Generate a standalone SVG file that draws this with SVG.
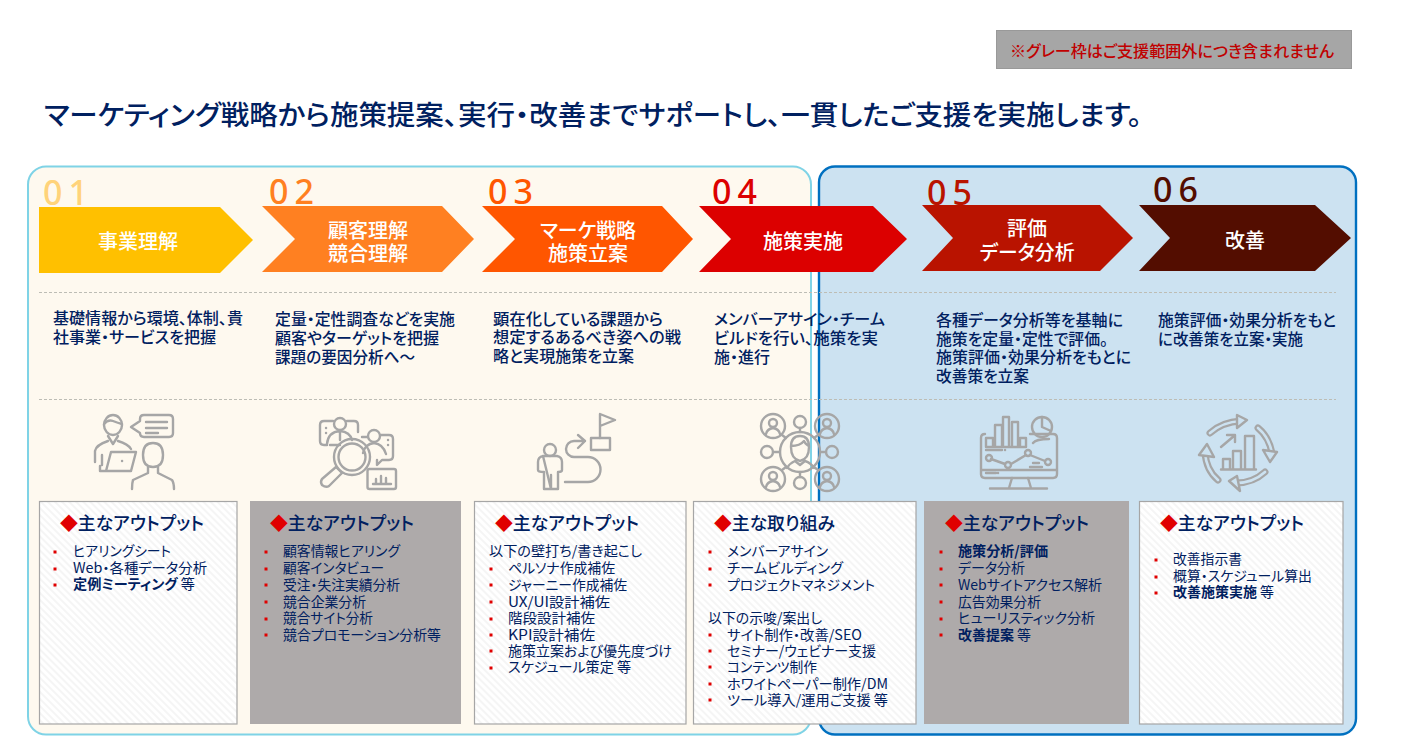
<svg xmlns="http://www.w3.org/2000/svg" width="1408" height="755" viewBox="0 0 1408 755">
<style>
text{font-family:"Noto Sans CJK JP","Noto Sans",sans-serif;fill:#002060;font-feature-settings:"palt"}
.num{font-family:"Noto Sans",sans-serif;font-size:34px;font-weight:500;letter-spacing:6px}
.lab{fill:#fff;font-size:20px;font-weight:500;text-anchor:middle}
.desc{font-size:15.5px;font-weight:500}
.li{font-size:14px;font-weight:400}
.b{font-weight:700}
.hd{font-size:18px;font-weight:500}
.dia{fill:#e00000}
.bul{fill:#e00000}
.box{stroke:#a6a6a6;stroke-width:1.2}
.w{fill:url(#hatch)}
.g{fill:#aeaaaa}
.dash{stroke:#bdbdb5;stroke-width:1;stroke-dasharray:3 2;fill:none}
.ic{fill:none;stroke:#a6a6a6;stroke-width:2.4;stroke-linecap:round;stroke-linejoin:round}
</style>
<defs>
<pattern id="hatch" width="5" height="5" patternUnits="userSpaceOnUse" patternTransform="rotate(45)">
<rect width="5" height="5" fill="#fff"/><rect width="5" height="2" fill="#f5f5f5"/>
</pattern>
<rect id="bl" x="-1.500" y="-1.500" width="3" height="3" class="bul"/>
</defs>
<rect width="1408" height="755" fill="#fff"/>
<g id="note">
<rect x="996.500" y="30.500" width="355" height="38" fill="#a6a6a6" stroke="#999"/>
<text x="1010" y="57" font-size="15.500" font-weight="500" style="fill:#c00000" textLength="324" lengthAdjust="spacingAndGlyphs">※グレー枠はご支援範囲外につき含まれません</text>
</g>
<text id="title" x="44" y="125" font-size="27.500" font-weight="500" textLength="1098" lengthAdjust="spacingAndGlyphs">マーケティング戦略から施策提案、実行・改善までサポートし、一貫したご支援を実施します。</text>
<g id="panels">
<rect x="28" y="166.500" width="783" height="568" rx="18" fill="#fef9ef" stroke="#7fd3e6" stroke-width="2"/>
<rect x="819" y="166.500" width="537" height="568" rx="16" fill="#cce2f1" stroke="#0070c0" stroke-width="2.400"/>
</g>
<path class="dash" d="M39 292.500H1336M39 399.500H1336"/>

<g id="step1">
<text class="num" x="43" y="205" style="fill:#ffd37a">01</text>
<path d="M39 207H220L253 240L220 273H39Z" fill="#ffc000"/>
<text class="lab" x="138" y="249">事業理解</text>
<text class="desc" x="53" y="324" textLength="190" lengthAdjust="spacingAndGlyphs">基礎情報から環境、体制、貴</text>
<text class="desc" x="53" y="343" textLength="163" lengthAdjust="spacingAndGlyphs">社事業・サービスを把握</text>
<g class="ic">
<ellipse cx="113" cy="425" rx="9" ry="10"/><path d="M104 424Q108 419 113 421Q118 423 122 424M108 436L113 444L118 436M95 462V451Q96 445 108 441M118 441Q128 444 131 449M102 455V465M111 452H136L131 471H106ZM100 466V471H131"/>
<path d="M122 461h.1"/>
<path d="M144 415H169Q173 415 173 419V433Q173 437 169 437H144Q140 437 140 433L131 427L140 421V419Q140 415 144 415ZM146 422H167M146 428H167M146 433H158"/>
<path d="M143 455Q143 443 153 443Q163 443 163 455Q163 467 153 467Q143 467 143 455ZM148 467V473L133 480Q132 483 132 489M158 467V473L172 480Q174 483 174 489"/>
</g>
</g>

<g id="step2">
<text class="num" x="269" y="204" style="fill:#ff8021">02</text>
<path d="M262 206H442L474 239L442 272H262L295 239Z" fill="#ff8021"/>
<text class="lab" x="368" y="238">顧客理解</text><text class="lab" x="368" y="261">競合理解</text>
<text class="desc" x="275" y="325" textLength="180" lengthAdjust="spacingAndGlyphs">定量・定性調査などを実施</text>
<text class="desc" x="275" y="344" textLength="164" lengthAdjust="spacingAndGlyphs">顧客やターゲットを把握</text>
<text class="desc" x="275" y="363" textLength="140" lengthAdjust="spacingAndGlyphs">課題の要因分析へ～</text>
<g class="ic">
<path d="M333 421H324Q320 421 320 425V441Q320 445 324 445H327M347 421H354Q358 421 358 425V432M330 445H340"/>
<circle cx="340" cy="424" r="6"/><path d="M327 444Q328 432 340 431Q350 432 352 440M340 431V440"/>
<circle cx="374" cy="436" r="6"/><path d="M363 453Q365 444 374 443Q383 444 386 454M367 437H362M381 435H389Q393 435 393 439V456Q393 460 389 460H382L377 465V460"/>
<circle cx="352" cy="457" r="18"/><circle cx="352" cy="457" r="13.500"/>
<path d="M339 470L342 473L329 486Q326 488 322 485Q320 482 322 479L336 467Z"/>
<rect x="367.500" y="469" width="28.500" height="20" rx="2"/><path d="M373 484H391M376 484V479M381 484V476M386 484V478"/>
<path d="M326 428h.1M326 433h.1M388 440h.1M388 445h.1"/>
</g>
</g>

<g id="step3">
<text class="num" x="488" y="204" style="fill:#ff5600">03</text>
<path d="M482 206H662L693 239L662 272H482L515 239Z" fill="#ff5600"/>
<text class="lab" x="588" y="238" textLength="96" lengthAdjust="spacingAndGlyphs">マーケ戦略</text><text class="lab" x="588" y="261">施策立案</text>
<text class="desc" x="493" y="325" textLength="170" lengthAdjust="spacingAndGlyphs">顕在化している課題から</text>
<text class="desc" x="493" y="343" textLength="188" lengthAdjust="spacingAndGlyphs">想定するあるべき姿への戦</text>
<text class="desc" x="493" y="362" textLength="141" lengthAdjust="spacingAndGlyphs">略と実現施策を立案</text>
<g class="ic">
<circle cx="550" cy="450" r="6"/>
<path d="M543 456H557Q562 457 562 462V470Q562 472 558 472V489H551V475M551 489H544V472Q538 472 538 470V462Q538 457 543 456Z"/>
<path d="M565 482H588A12.500 12.500 0 0 0 588 457H574A8 8 0 0 1 574 441H585M578 435L585 441L578 448"/>
<rect x="591" y="438" width="19" height="12"/><path d="M600 438V414L615 420L600 426"/>
</g>
</g>

<g id="step4">
<text class="num" x="712" y="204" style="fill:#dc0000">04</text>
<path d="M699 206H873L907 239L873 272H699L731 239Z" fill="#dc0000"/>
<text class="lab" x="803" y="249">施策実施</text>
<text class="desc" x="714" y="325" textLength="171" lengthAdjust="spacingAndGlyphs">メンバーアサイン・チーム</text>
<text class="desc" x="714" y="344" textLength="164" lengthAdjust="spacingAndGlyphs">ビルドを行い、施策を実</text>
<text class="desc" x="714" y="363" textLength="56" lengthAdjust="spacingAndGlyphs">施・進行</text>
<g class="ic">
<circle cx="800" cy="452" r="20"/><path d="M791 447Q791 436 800 436Q809 436 809 447Q809 459 800 461Q791 459 791 447ZM791 446Q800 446 804 441Q806 445 809 446M787 468Q790 463 795 461L800 465L805 461Q811 463 814 468"/>
<circle cx="773" cy="426" r="12"/><circle cx="827" cy="426" r="12"/><circle cx="773" cy="479" r="12"/><circle cx="827" cy="479" r="12"/>
<circle cx="800" cy="422" r="6"/><circle cx="800" cy="483" r="6"/><circle cx="767" cy="452" r="6"/><circle cx="832" cy="452" r="6"/>
<path d="M800 428V432M800 472V477M773 452H780M820 452H826M782 435L786 438M818 435L814 438M782 470L786 467M818 470L814 467"/>
<circle cx="773" cy="423" r="4"/><path d="M766 434Q767 429 773 428Q779 429 780 434"/>
<circle cx="827" cy="423" r="4"/><path d="M820 434Q821 429 827 428Q833 429 834 434"/>
<circle cx="773" cy="476" r="4"/><path d="M766 487Q767 482 773 481Q779 482 780 487"/>
<circle cx="827" cy="476" r="4"/><path d="M820 487Q821 482 827 481Q833 482 834 487"/>
</g>
</g>

<g id="step5">
<text class="num" x="927" y="205" style="fill:#b91300">05</text>
<path d="M922 205H1100L1133 238L1100 271H922L953 238Z" fill="#b91300"/>
<text class="lab" x="1027" y="236">評価</text><text class="lab" x="1027" y="260" textLength="95" lengthAdjust="spacingAndGlyphs">データ分析</text>
<text class="desc" x="936" y="326" textLength="187" lengthAdjust="spacingAndGlyphs">各種データ分析等を基軸に</text>
<text class="desc" x="936" y="345" textLength="172" lengthAdjust="spacingAndGlyphs">施策を定量・定性で評価。</text>
<text class="desc" x="936" y="363" textLength="195" lengthAdjust="spacingAndGlyphs">施策評価・効果分析をもとに</text>
<text class="desc" x="936" y="382" textLength="93" lengthAdjust="spacingAndGlyphs">改善策を立案</text>
<g class="ic">
<path d="M1030 434H1053Q1057 434 1057 438V474Q1057 478 1053 478H985Q981 478 981 474V438Q981 434 985 434"/>
<path d="M986 447V438H993V447ZM995 447V425H1002V447M1003 447V417H1009V447M1012 447V422H1018V447M1020 447V438H1026V447M986 447H1026"/>
<circle cx="1042" cy="427" r="10"/><path d="M1042 417V427L1051 431"/>
<path d="M1033 443Q1036 439 1049 439M986 450H1002M1005 450h.1"/>
<path d="M991 459L1005 464M1011 464L1026 455M1030 455L1045 461"/>
<circle cx="989" cy="458" r="3"/><circle cx="1008" cy="465" r="3"/><circle cx="1028" cy="453" r="3"/><circle cx="1048" cy="462" r="3"/>
<path d="M1033 463H1039M1030 467H1042M986 473H996M998 473h.1M982 470H1056M1012 478L1009 488M1028 478L1031 488M990 488.500H1047"/>
</g>
</g>

<g id="step6">
<text class="num" x="1153" y="202" style="fill:#530d00">06</text>
<path d="M1139 205H1315L1351 238L1315 271H1139L1170 238Z" fill="#530d00"/>
<text class="lab" x="1245" y="248">改善</text>
<text class="desc" x="1158" y="326" textLength="178" lengthAdjust="spacingAndGlyphs">施策評価・効果分析をもと</text>
<text class="desc" x="1158" y="345" textLength="145" lengthAdjust="spacingAndGlyphs">に改善策を立案・実施</text>
<g fill="none" stroke-linecap="round">
<path d="M1210 433Q1222 422 1241 421M1258 428Q1269 437 1272 453M1265 472Q1253 483 1236 483M1218 480Q1206 470 1205 452" stroke="#a6a6a6" stroke-width="7"/>
<path d="M1210 433Q1222 422 1241 421M1258 428Q1269 437 1272 453M1265 472Q1253 483 1236 483M1218 480Q1206 470 1205 452" stroke="#cce2f1" stroke-width="2.600"/>
</g>
<g class="ic" style="fill:#cce2f1">
<path d="M1247 420L1237 415V428ZM1270 462L1263 450L1277 452ZM1229 481L1240 491L1237 476ZM1207 444L1199 455L1214 457Z"/>
<path d="M1223 469V459H1230V469M1233 469V451H1241V469M1245 469V436H1254V469M1221 469.500H1256M1221 447L1234 436M1227 435H1235V442"/>
</g>
</g>

<g id="box1">
<rect class="box w" x="39.500" y="501.500" width="197.500" height="222.500"/>
<text class="hd" x="60" y="530" textLength="144" lengthAdjust="spacingAndGlyphs"><tspan class="dia">◆</tspan>主なアウトプット</text>
<text x="73" y="556" class="li" textLength="98" lengthAdjust="spacingAndGlyphs">ヒアリングシート</text>
<text x="73" y="573" class="li" textLength="134" lengthAdjust="spacingAndGlyphs">Web・各種データ分析</text>
<text x="73" y="589" class="li" textLength="122" lengthAdjust="spacingAndGlyphs"><tspan class="b">定例ミーティング</tspan> 等</text>
<use href="#bl" x="55" y="552"/><use href="#bl" x="55" y="569"/><use href="#bl" x="55" y="585"/>
</g>

<g id="box2">
<rect class="g" x="250" y="501" width="211" height="223"/>
<text class="hd" x="270" y="530" textLength="144" lengthAdjust="spacingAndGlyphs"><tspan class="dia">◆</tspan>主なアウトプット</text>
<text x="283" y="556" class="li" textLength="117" lengthAdjust="spacingAndGlyphs">顧客情報ヒアリング</text>
<text x="283" y="573" class="li" textLength="101" lengthAdjust="spacingAndGlyphs">顧客インタビュー</text>
<text x="283" y="590" class="li" textLength="117" lengthAdjust="spacingAndGlyphs">受注・失注実績分析</text>
<text x="283" y="607" class="li" textLength="83" lengthAdjust="spacingAndGlyphs">競合企業分析</text>
<text x="283" y="623" class="li" textLength="90" lengthAdjust="spacingAndGlyphs">競合サイト分析</text>
<text x="283" y="640" class="li" textLength="158" lengthAdjust="spacingAndGlyphs">競合プロモーション分析等</text>
<use href="#bl" x="266" y="552"/><use href="#bl" x="266" y="569"/><use href="#bl" x="266" y="585"/><use href="#bl" x="266" y="602"/><use href="#bl" x="266" y="619"/><use href="#bl" x="266" y="635"/>
</g>

<g id="box3">
<rect class="box w" x="474.500" y="501.500" width="211.500" height="222.500"/>
<text class="hd" x="495" y="530" textLength="144" lengthAdjust="spacingAndGlyphs"><tspan class="dia">◆</tspan>主なアウトプット</text>
<text x="489" y="556" class="li" textLength="153" lengthAdjust="spacingAndGlyphs">以下の壁打ち/書き起こし</text>
<text x="508" y="573" class="li" textLength="107" lengthAdjust="spacingAndGlyphs">ペルソナ作成補佐</text>
<text x="508" y="590" class="li" textLength="119" lengthAdjust="spacingAndGlyphs">ジャーニー作成補佐</text>
<text x="508" y="607" class="li" textLength="102" lengthAdjust="spacingAndGlyphs">UX/UI設計補佐</text>
<text x="508" y="623" class="li" textLength="87" lengthAdjust="spacingAndGlyphs">階段設計補佐</text>
<text x="508" y="640" class="li" textLength="87" lengthAdjust="spacingAndGlyphs">KPI設計補佐</text>
<text x="508" y="656" class="li" textLength="164" lengthAdjust="spacingAndGlyphs">施策立案および優先度づけ</text>
<text x="508" y="672" class="li" textLength="123" lengthAdjust="spacingAndGlyphs">スケジュール策定 等</text>
<use href="#bl" x="491" y="569"/><use href="#bl" x="491" y="585"/><use href="#bl" x="491" y="602"/><use href="#bl" x="491" y="619"/><use href="#bl" x="491" y="635"/><use href="#bl" x="491" y="651"/><use href="#bl" x="491" y="668"/>
</g>

<g id="box4">
<rect class="box w" x="693.500" y="501.500" width="222.500" height="222.500"/>
<text class="hd" x="714" y="530" textLength="121" lengthAdjust="spacingAndGlyphs"><tspan class="dia">◆</tspan>主な取り組み</text>
<text x="727" y="556" class="li" textLength="101" lengthAdjust="spacingAndGlyphs">メンバーアサイン</text>
<text x="727" y="573" class="li" textLength="116" lengthAdjust="spacingAndGlyphs">チームビルディング</text>
<text x="727" y="590" class="li" textLength="148" lengthAdjust="spacingAndGlyphs">プロジェクトマネジメント</text>
<text x="708" y="623" class="li" textLength="114" lengthAdjust="spacingAndGlyphs">以下の示唆/案出し</text>
<text x="727" y="640" class="li" textLength="135" lengthAdjust="spacingAndGlyphs">サイト制作・改善/SEO</text>
<text x="727" y="656" class="li" textLength="149" lengthAdjust="spacingAndGlyphs">セミナー/ウェビナー支援</text>
<text x="727" y="672" class="li" textLength="90" lengthAdjust="spacingAndGlyphs">コンテンツ制作</text>
<text x="727" y="689" class="li" textLength="161" lengthAdjust="spacingAndGlyphs">ホワイトペーパー制作/DM</text>
<text x="727" y="705" class="li" textLength="161" lengthAdjust="spacingAndGlyphs">ツール導入/運用ご支援 等</text>
<use href="#bl" x="710" y="552"/><use href="#bl" x="710" y="569"/><use href="#bl" x="710" y="585"/><use href="#bl" x="710" y="635"/><use href="#bl" x="710" y="651"/><use href="#bl" x="710" y="667"/><use href="#bl" x="710" y="684"/><use href="#bl" x="710" y="700"/>
</g>

<g id="box5">
<rect class="g" x="924" y="501" width="205" height="223"/>
<text class="hd" x="945" y="530" textLength="144" lengthAdjust="spacingAndGlyphs"><tspan class="dia">◆</tspan>主なアウトプット</text>
<text x="958" y="556" class="li b" textLength="90" lengthAdjust="spacingAndGlyphs">施策分析/評価</text>
<text x="958" y="573" class="li" textLength="67" lengthAdjust="spacingAndGlyphs">データ分析</text>
<text x="958" y="590" class="li" textLength="144" lengthAdjust="spacingAndGlyphs">Webサイトアクセス解析</text>
<text x="958" y="607" class="li" textLength="83" lengthAdjust="spacingAndGlyphs">広告効果分析</text>
<text x="958" y="623" class="li" textLength="137" lengthAdjust="spacingAndGlyphs">ヒューリスティック分析</text>
<text x="958" y="640" class="li" textLength="73" lengthAdjust="spacingAndGlyphs"><tspan class="b">改善提案</tspan> 等</text>
<use href="#bl" x="941" y="552"/><use href="#bl" x="941" y="569"/><use href="#bl" x="941" y="585"/><use href="#bl" x="941" y="602"/><use href="#bl" x="941" y="619"/><use href="#bl" x="941" y="635"/>
</g>

<g id="box6">
<rect class="box w" x="1139.500" y="501.500" width="203.500" height="222.500"/>
<text class="hd" x="1160" y="530" textLength="144" lengthAdjust="spacingAndGlyphs"><tspan class="dia">◆</tspan>主なアウトプット</text>
<text x="1173" y="564" class="li" textLength="69" lengthAdjust="spacingAndGlyphs">改善指示書</text>
<text x="1173" y="581" class="li" textLength="139" lengthAdjust="spacingAndGlyphs">概算・スケジュール算出</text>
<text x="1173" y="597" class="li" textLength="101" lengthAdjust="spacingAndGlyphs"><tspan class="b">改善施策実施</tspan> 等</text>
<use href="#bl" x="1156" y="560"/><use href="#bl" x="1156" y="577"/><use href="#bl" x="1156" y="593"/>
</g>
</svg>
